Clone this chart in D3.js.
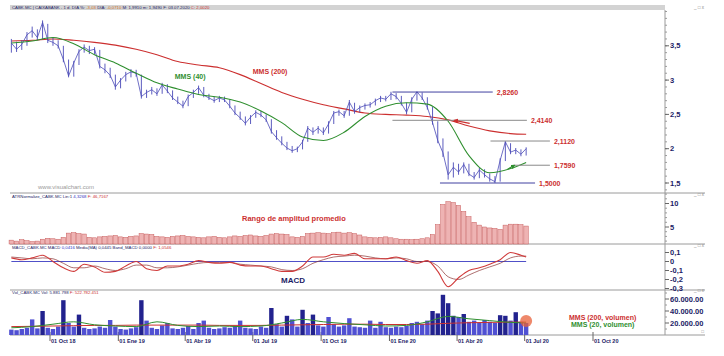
<!DOCTYPE html>
<html><head><meta charset="utf-8">
<script src="https://cdn.jsdelivr.net/npm/d3@7"></script>
<style>body{margin:0;background:#fff}svg{display:block}text{font-family:"Liberation Sans",Arial,sans-serif}</style>
</head><body><svg id="c" width="724" height="356"></svg>
<script>
// ---------- DATA ----------
const startDate = "2018-08-10"; // weekly series start (Fridays)
const price = [3.54,3.45,3.52,3.66,3.72,3.62,3.84,3.58,3.55,3.50,
 3.30,3.06,3.25,3.42,3.48,3.43,3.45,3.20,3.15,3.07,
 2.90,3.00,3.08,3.12,3.10,2.76,2.82,2.86,2.80,2.93,
 2.84,2.74,2.68,2.62,2.76,2.82,2.89,2.78,2.74,2.70,
 2.74,2.71,2.62,2.52,2.45,2.37,2.46,2.53,2.49,2.42,
 2.25,2.16,2.08,2.01,1.97,2.00,2.10,2.30,2.24,2.30,
 2.23,2.36,2.52,2.54,2.48,2.68,2.54,2.60,2.63,2.64,
 2.70,2.74,2.72,2.80,2.76,2.66,2.53,2.72,2.83,2.74,
 2.60,2.38,2.12,1.94,1.62,1.73,1.66,1.77,1.63,1.58,
 1.69,1.62,1.56,1.52,1.83,2.10,1.95,1.98,1.92,2.00];
const priceHigh = [3.60,3.56,3.58,3.70,3.78,3.74,3.87,3.82,3.62,3.58,
 3.50,3.30,3.28,3.45,3.52,3.50,3.48,3.44,3.24,3.18,
 3.08,3.03,3.12,3.16,3.15,3.08,2.86,2.90,2.88,2.96,
 2.94,2.85,2.76,2.70,2.79,2.86,2.92,2.90,2.80,2.76,
 2.77,2.76,2.72,2.63,2.54,2.47,2.49,2.56,2.55,2.50,
 2.43,2.27,2.18,2.10,2.04,2.03,2.13,2.33,2.31,2.33,
 2.31,2.40,2.55,2.57,2.55,2.71,2.67,2.63,2.66,2.68,
 2.73,2.77,2.77,2.83,2.81,2.77,2.67,2.75,2.83,2.82,
 2.75,2.61,2.40,2.15,1.96,1.80,1.78,1.80,1.78,1.66,
 1.72,1.70,1.64,1.60,1.86,2.11,2.08,2.01,1.99,2.02];
const priceLow = [3.40,3.41,3.44,3.50,3.62,3.58,3.60,3.54,3.50,3.46,
 3.26,3.04,3.05,3.22,3.40,3.38,3.38,3.17,3.10,3.03,
 2.86,2.88,2.98,3.04,3.05,2.73,2.74,2.79,2.77,2.80,
 2.81,2.71,2.65,2.59,2.62,2.74,2.80,2.75,2.71,2.67,
 2.68,2.68,2.59,2.49,2.42,2.34,2.36,2.45,2.46,2.39,
 2.22,2.13,2.05,1.98,1.94,1.95,1.99,2.10,2.20,2.22,
 2.20,2.22,2.36,2.48,2.45,2.48,2.51,2.53,2.57,2.60,
 2.63,2.68,2.69,2.71,2.72,2.63,2.50,2.53,2.70,2.71,
 2.57,2.35,2.08,1.88,1.55,1.58,1.62,1.64,1.60,1.55,
 1.57,1.58,1.52,1.50,1.52,1.82,1.92,1.92,1.89,1.90];
// every 4 weeks (last = final week)
const ma40 = [3.54,3.57,3.62,3.53,3.37,3.25,3.10,2.96,2.87,2.79,2.75,2.68,2.55,2.38,2.17,2.12,2.24,2.47,2.62,2.67,2.65,2.40,1.90,1.65,1.71,1.80];
const ma200 = [3.57,3.58,3.60,3.58,3.55,3.51,3.45,3.37,3.27,3.22,3.18,3.08,2.95,2.82,2.72,2.64,2.58,2.52,2.50,2.49,2.47,2.42,2.33,2.26,2.22,2.21];
const atr = [2.2,2.0,2.3,2.1,1.9,2.0,2.4,2.6,2.5,2.4,2.8,
 3.7,3.8,3.6,3.5,2.8,2.7,2.9,3.0,3.1,3.2,2.9,2.8,3.0,3.1,
 3.6,3.5,3.4,3.0,2.9,2.8,3.0,3.1,3.2,3.0,2.9,2.8,2.7,2.9,3.0,2.8,2.7,2.9,3.1,3.0,3.2,3.3,3.1,3.0,3.2,
 3.5,3.6,3.5,3.4,2.9,2.8,3.0,3.6,3.7,3.8,3.7,3.6,3.8,3.9,3.7,3.8,3.6,3.3,
 2.9,2.8,2.7,2.8,2.9,2.7,2.5,2.4,2.4,2.3,2.4,2.5,2.7,3.4,
 5.5,9.8,10.4,10.2,9.6,8.3,7.2,6.0,5.4,5.0,4.8,4.7,4.5,5.4,5.6,5.6,5.5,5.2];
// every 2 weeks (last = final week)
const macd = [0.04,0.02,0.04,0.07,0.00,-0.07,-0.11,-0.03,-0.06,-0.12,
 -0.11,-0.05,0.00,-0.08,-0.10,-0.05,-0.05,-0.03,0.01,-0.01,
 -0.02,-0.01,-0.04,-0.05,-0.05,-0.08,-0.11,-0.11,-0.05,0.05,
 0.05,0.08,0.07,0.09,0.03,0.03,0.03,0.05,0.01,-0.02,
 0.01,-0.11,-0.28,-0.18,-0.10,-0.07,-0.03,0.02,0.10,0.07,0.05];
const macdSignal = [0.05,0.04,0.03,0.04,0.03,-0.02,-0.07,-0.07,-0.05,-0.08,
 -0.10,-0.08,-0.04,-0.04,-0.07,-0.07,-0.06,-0.04,-0.02,-0.01,
 -0.01,-0.01,-0.03,-0.04,-0.05,-0.06,-0.09,-0.10,-0.08,-0.02,
 0.02,0.05,0.06,0.07,0.06,0.04,0.03,0.04,0.03,0.00,
 0.00,-0.05,-0.17,-0.20,-0.15,-0.10,-0.06,-0.02,0.04,0.06,0.06];
const volume = [9000,8000,10000,12000,26000,11000,40000,12000,10000,14000,
 58000,20000,14000,34000,12000,10000,11000,14000,12000,25000,
 14000,10000,9000,11000,13000,58000,24000,12000,10000,16000,
 20000,11000,10000,12000,15000,10000,20000,24000,12000,10000,
 11000,13000,12000,15000,24000,12000,11000,10000,14000,12000,
 45000,18000,14000,32000,26000,14000,42000,20000,34000,16000,
 14000,30000,18000,14000,16000,28000,14000,13000,12000,24000,
 12000,22000,13000,12000,14000,13000,15000,20000,22000,18000,
 24000,40000,36000,67000,53000,32000,30000,35000,22000,24000,
 20000,25000,22000,20000,33000,32000,24000,38000,22000,20000];
const volMa200 = [14000,14500,15000,15500,16000,16000,16500,16500,16500,16500,16000,16000,16000,16500,17000,17500,18000,18000,17500,17500,18000,19500,20500,21000,21500,21500];
const volMa20 = [12000,14000,18000,22000,17000,15000,14000,22000,16000,14000,15000,14000,15000,20000,26000,22000,19000,17000,15000,16000,22000,31000,27000,24000,21000,20000];

const levels = [2.826, 2.414, 2.112, 1.759, 1.5];
const levelLabels = ["2,8260","2,4140","2,1120","1,7590","1,5000"];
const levelFrom = ["2020-01-05","2020-01-05","2020-05-16","2020-06-16","2020-03-09"];
const levelTo = ["2020-05-19","2020-07-04","2020-08-04","2020-08-04","2020-07-15"];

const xTickDates = ["2018-10-01","2019-01-01","2019-04-01","2019-07-01","2019-10-01","2020-01-01","2020-04-01","2020-07-01","2020-10-01"];
const xTickLabels = ["01 Oct 18","01 Ene 19","01 Abr 19","01 Jul 19","01 Oct 19","01 Ene 20","01 Abr 20","01 Jul 20","01 Oct 20"];
const priceTicks = [1.5,2,2.5,3,3.5];
const priceTickLabels = ["1,5","2","2,5","3","3,5"];
const atrTicks = [5,10];
const macdTicks = [0.1,0,-0.1,-0.2,-0.3];
const macdTickLabels = ["0,1","0","-0,1","-0,2","-0,3"];
const volTicks = [20000,40000,60000];
const volTickLabels = ["20.000.00","40.000.00","60.000.00"];

// ---------- LAYOUT ----------
const svg = d3.select("#c");
const parse = d3.utcParse("%Y-%m-%d");
const start = parse(startDate);
const weeks = d3.range(price.length).map(i => d3.utcDay.offset(start, 7 * i));
const stepDate = step => (d, k) => weeks[Math.min(k * step, weeks.length - 1)];

const L = 10, R = 665;
const P = {top: 10, bot: 193}, A = {top: 193, bot: 244}, M = {top: 244, bot: 290}, V = {top: 290, bot: 335};
const x = d3.scaleUtc().domain([parse("2018-10-01"), parse("2020-10-01")]).range([50, 593]);
const yP = d3.scaleLinear().domain([1.5, 3.5]).range([183, 45.8]);
const yA = d3.scaleLinear().domain([5, 10]).range([227, 203.5]);
const yM = d3.scaleLinear().domain([0, 0.1]).range([261.5, 252.5]);
const yV = d3.scaleLinear().domain([0, 20000]).range([335, 323]);

const navy = "#1c1c66", red = "#cc2f2f", green = "#2f8f2f", blue = "#4a4ab8", grid = "#9a9a9a";

const defs = svg.append("defs");
defs.append("clipPath").attr("id", "cp").append("rect").attr("x", L).attr("y", P.top).attr("width", R - L).attr("height", P.bot - P.top);

// header bar
svg.append("rect").attr("x", L).attr("y", 5).attr("width", R - L).attr("height", 5).attr("fill", "#d3d3d3");
const hdr = svg.append("text").attr("x", 12).attr("y", 9.2).attr("font-size", 4.3).attr("fill", navy);
hdr.append("tspan").text("CABK.MC | CAIXABANK - 1 d. DIA %: ");
hdr.append("tspan").attr("fill", "#d07020").text("-3,03 ");
hdr.append("tspan").text("DIA: ");
hdr.append("tspan").attr("fill", "#d07020").text("-0,0710 ");
hdr.append("tspan").text("M: 1,9910 m: 1,9490 F: 03.07.2020 ");
hdr.append("tspan").attr("fill", red).text("C: 2,0020");

// panel separators
[P.bot, A.bot, M.bot, V.bot].forEach(yy => svg.append("line").attr("x1", L).attr("x2", 705).attr("y1", yy).attr("y2", yy).attr("stroke", grid).attr("stroke-width", 1));
svg.append("line").attr("x1", R).attr("x2", R).attr("y1", P.top).attr("y2", V.bot).attr("stroke", grid);
[8.5, 196, 247, 292].forEach(yy => svg.append("text").attr("x", 704).attr("y", yy).attr("text-anchor", "end").attr("font-size", 4.5).attr("fill", "#888").text("_ □ x"));
svg.append("text").attr("x", 704).attr("y", 333).attr("text-anchor", "end").attr("font-size", 4.5).attr("fill", "#888").text("□");

function ph(yy, parts) {
  const t = svg.append("text").attr("x", 12).attr("y", yy).attr("font-size", 4.3).attr("fill", navy);
  parts.forEach(p => t.append("tspan").attr("fill", p[1]).text(p[0]));
}
ph(197.5, [["ATRNormalize_CABK.MC Lin:1 ", navy], ["4,3268 ", "#3030c0"], ["F: 46,7167", red]]);
ph(248.5, [["MACD_CABK.MC MACD ", navy], ["0,0416 ", "#3030c0"], ["Media(MA) 0,0445 Band_MACD 0,0000 ", navy], ["F: 1,0546", red]]);
ph(294, [["Vol_CABK.MC Vol: 5.881.798 ", navy], ["F: 522.782.451", red]]);

svg.append("text").attr("x", 38).attr("y", 188.5).attr("font-size", 6).attr("fill", "#9a9a9a").text("www.visualchart.com");

// ---------- RIGHT AXES ----------
function rightAxis(scale, ticks, labels, minor, clipTop, clipBot) {
  const g = svg.append("g");
  minor.forEach(v => g.append("line").attr("x1", R).attr("x2", R + 2).attr("y1", scale(v)).attr("y2", scale(v)).attr("stroke", grid));
  ticks.forEach((v, i) => {
    const yy = scale(v);
    if (yy < clipTop - 2 || yy > clipBot + 6) return;
    g.append("line").attr("x1", R).attr("x2", R + 4).attr("y1", yy).attr("y2", yy).attr("stroke", "#666");
    g.append("text").attr("x", R + 5).attr("y", yy + 2.6).attr("font-size", 7.5).attr("font-weight", "bold").attr("fill", navy).text(labels[i]);
  });
  return g;
}
rightAxis(yP, priceTicks, priceTickLabels, d3.range(1.4, 4.01, 0.1).filter(v => yP(v) > P.top && yP(v) < P.bot), P.top, P.bot);
rightAxis(yA, atrTicks, ["5", "10"], [2, 3, 4, 6, 7, 8, 9, 11, 12].filter(v => yA(v) > A.top && yA(v) < A.bot), A.top, A.bot);
defs.append("clipPath").attr("id", "cm").append("rect").attr("x", R).attr("y", M.top).attr("width", 60).attr("height", M.bot - M.top + 2);
rightAxis(yM, macdTicks, macdTickLabels, [], M.top, M.bot).attr("clip-path", "url(#cm)");
rightAxis(yV, volTicks, volTickLabels, [10000, 30000, 50000, 70000].filter(v => yV(v) > V.top), V.top, V.bot);

xTickDates.forEach((d, i) => {
  const xx = x(parse(d));
  svg.append("line").attr("x1", xx).attr("x2", xx).attr("y1", V.bot - 3).attr("y2", V.bot + 6).attr("stroke", "#666");
  svg.append("text").attr("x", xx + 1).attr("y", 343).attr("font-size", 5.5).attr("font-weight", "bold").attr("fill", navy).text(xTickLabels[i]);
});

// ---------- PRICE PANEL ----------
const gp = svg.append("g").attr("clip-path", "url(#cp)");
const lineW = (ys, step) => d3.line().x((d, k) => x(stepDate(step)(d, k))).y(d => ys(d));
gp.append("path").datum(ma200).attr("d", lineW(yP, 4).curve(d3.curveMonotoneX)).attr("fill", "none").attr("stroke", red).attr("stroke-width", 1.1);
gp.append("g").selectAll("line").data(price).join("line")
  .attr("x1", (d, i) => x(weeks[i])).attr("x2", (d, i) => x(weeks[i]))
  .attr("y1", (d, i) => yP(priceHigh[i])).attr("y2", (d, i) => yP(priceLow[i]))
  .attr("stroke", blue).attr("stroke-width", 0.9);
gp.append("path").datum(price).attr("d", lineW(yP, 1)).attr("fill", "none").attr("stroke", blue).attr("stroke-width", 0.8);
gp.append("path").datum(ma40).attr("d", lineW(yP, 4).curve(d3.curveMonotoneX)).attr("fill", "none").attr("stroke", green).attr("stroke-width", 1.1);

levels.forEach((v, i) => {
  const x1 = x(parse(levelFrom[i])), x2 = x(parse(levelTo[i])), yy = yP(v);
  const col = (i === 0 || i === 4) ? "#4040a0" : "#8a8a8a";
  svg.append("line").attr("x1", x1).attr("x2", x2).attr("y1", yy).attr("y2", yy).attr("stroke", col).attr("stroke-width", 1);
  svg.append("text").attr("x", x2 + 4).attr("y", yy + 2.6).attr("font-size", 7).attr("font-weight", "bold").attr("fill", red).text(levelLabels[i]);
});
defs.append("marker").attr("id", "ar").attr("viewBox", "0 0 10 10").attr("refX", 5).attr("refY", 5).attr("markerWidth", 4).attr("markerHeight", 4).attr("orient", "auto")
  .append("path").attr("d", "M0,0L10,5L0,10z").attr("fill", red);
defs.append("marker").attr("id", "ag").attr("viewBox", "0 0 10 10").attr("refX", 5).attr("refY", 5).attr("markerWidth", 4).attr("markerHeight", 4).attr("orient", "auto")
  .append("path").attr("d", "M0,0L10,5L0,10z").attr("fill", green);
svg.append("line").attr("x1", x(parse("2020-04-18"))).attr("y1", yP(2.37)).attr("x2", x(parse("2020-03-30"))).attr("y2", yP(2.41)).attr("stroke", red).attr("stroke-width", 1.2).attr("marker-end", "url(#ar)");
svg.append("line").attr("x1", x(parse("2020-06-08"))).attr("y1", yP(1.70)).attr("x2", x(parse("2020-06-16"))).attr("y2", yP(1.75)).attr("stroke", green).attr("stroke-width", 1.2).attr("marker-end", "url(#ag)");

svg.append("text").attr("x", x(parse("2019-03-18"))).attr("y", 79).attr("font-size", 7).attr("font-weight", "bold").attr("fill", green).text("MMS (40)");
svg.append("text").attr("x", x(parse("2019-07-01"))).attr("y", 74).attr("font-size", 7).attr("font-weight", "bold").attr("fill", red).text("MMS (200)");

// ---------- ATR PANEL ----------
const bw = x(weeks[1]) - x(weeks[0]);
svg.append("g").selectAll("rect").data(atr).join("rect")
  .attr("x", (d, i) => x(weeks[i]) - bw / 2 + 0.3).attr("width", bw - 0.8)
  .attr("y", d => yA(d)).attr("height", d => A.bot - yA(d))
  .attr("fill", "#eeb3b3").attr("stroke", "#c85c5c").attr("stroke-width", 0.5);
svg.append("text").attr("x", 242).attr("y", 221).attr("font-size", 7.5).attr("font-weight", "bold").attr("fill", red).text("Rango de amplitud promedio");

// ---------- MACD PANEL ----------
svg.append("line").attr("x1", x(weeks[0])).attr("x2", x(weeks[weeks.length - 1])).attr("y1", yM(0)).attr("y2", yM(0)).attr("stroke", "#5050c8").attr("stroke-width", 1);
svg.append("path").datum(macdSignal).attr("d", lineW(yM, 2).curve(d3.curveMonotoneX)).attr("fill", "none").attr("stroke", "#8a3030").attr("stroke-width", 0.7);
svg.append("path").datum(macd).attr("d", lineW(yM, 2).curve(d3.curveMonotoneX)).attr("fill", "none").attr("stroke", "#d03a3a").attr("stroke-width", 1.1);
svg.append("text").attr("x", 281).attr("y", 283).attr("font-size", 8).attr("font-weight", "bold").attr("fill", navy).text("MACD");

// ---------- VOLUME PANEL ----------
svg.append("g").selectAll("rect").data(volume).join("rect")
  .attr("x", (d, i) => x(weeks[i]) - bw / 2 + 0.4).attr("width", bw - 0.8)
  .attr("y", d => yV(d)).attr("height", d => V.bot - yV(d))
  .attr("fill", d => d > 30000 ? "#22228e" : "#5050d2");
svg.append("path").datum(volMa200).attr("d", lineW(yV, 4).curve(d3.curveMonotoneX)).attr("fill", "none").attr("stroke", red).attr("stroke-width", 1);
svg.append("path").datum(volMa20).attr("d", lineW(yV, 4).curve(d3.curveMonotoneX)).attr("fill", "none").attr("stroke", green).attr("stroke-width", 1);
svg.append("circle").attr("cx", x(weeks[weeks.length - 1])).attr("cy", yV(volMa200[volMa200.length - 1]) - 1).attr("r", 6).attr("fill", "#e8603a").attr("opacity", 0.75);
svg.append("text").attr("x", 569).attr("y", 320).attr("font-size", 7).attr("font-weight", "bold").attr("fill", red).text("MMS (200, volumen)");
svg.append("text").attr("x", 571).attr("y", 327).attr("font-size", 7).attr("font-weight", "bold").attr("fill", green).text("MMS (20, volumen)");
</script></body></html>
